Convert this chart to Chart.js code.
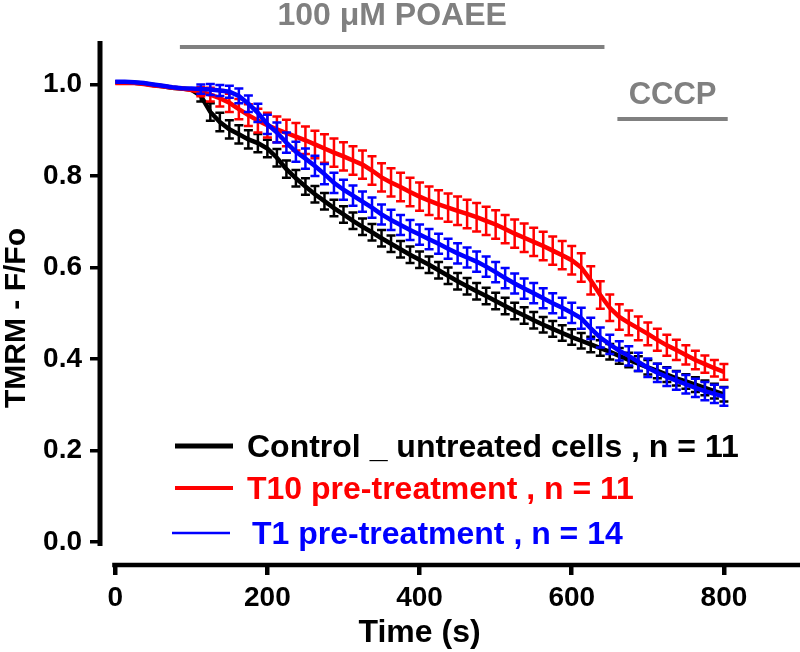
<!DOCTYPE html>
<html>
<head>
<meta charset="utf-8">
<script src="https://cdn.jsdelivr.net/npm/chart.js@4"></script>
<style>
html, body { margin: 0; padding: 0; background: #fff; }
#wrap { width: 800px; height: 652px; }
</style>
</head>
<body>
<div id="wrap"><canvas id="chart"></canvas></div>
<script>
// time points (s)
var times = [
  0, 12.5, 25, 37.5, 50, 62.5, 75, 87.5, 100, 112.5, 125, 137.5, 150,
  162.5, 175, 187.5, 200, 212.5, 225, 237.5, 250, 262.5, 275, 287.5, 300, 312.5,
  325, 337.5, 350, 362.5, 375, 387.5, 400, 412.5, 425, 437.5, 450, 462.5, 475,
  487.5, 500, 512.5, 525, 537.5, 550, 562.5, 575, 587.5, 600, 612.5, 625, 637.5,
  650, 662.5, 675, 687.5, 700, 712.5, 725, 737.5, 750, 762.5, 775, 787.5, 800
];

// Control _ untreated cells
var control = [
  1.005, 1.005, 1.004, 1.002, 0.999, 0.996, 0.993, 0.991, 0.989, 0.975, 0.940, 0.918, 0.902,
  0.891, 0.880, 0.872, 0.860, 0.840, 0.815, 0.795, 0.777, 0.760, 0.745, 0.730, 0.716, 0.702,
  0.689, 0.677, 0.664, 0.652, 0.640, 0.628, 0.617, 0.606, 0.594, 0.582, 0.570, 0.559, 0.548,
  0.538, 0.527, 0.516, 0.505, 0.495, 0.485, 0.475, 0.466, 0.457, 0.448, 0.440, 0.432, 0.424,
  0.416, 0.407, 0.398, 0.390, 0.382, 0.374, 0.366, 0.358, 0.351, 0.344, 0.337, 0.330, 0.323
];
var controlSem = [
  0.003, 0.003, 0.003, 0.003, 0.003, 0.003, 0.003, 0.003, 0.004, 0.012, 0.019, 0.020, 0.020,
  0.020, 0.020, 0.020, 0.019, 0.019, 0.019, 0.018, 0.018, 0.018, 0.018, 0.018, 0.018, 0.018,
  0.018, 0.018, 0.018, 0.018, 0.018, 0.018, 0.018, 0.018, 0.018, 0.018, 0.018, 0.018, 0.018,
  0.018, 0.018, 0.018, 0.018, 0.018, 0.018, 0.017, 0.017, 0.017, 0.017, 0.017, 0.017, 0.017,
  0.017, 0.017, 0.016, 0.016, 0.016, 0.016, 0.016, 0.016, 0.016, 0.016, 0.016, 0.016, 0.016
];

// T10 pre-treatment
var t10 = [
  1.003, 1.004, 1.003, 1.001, 0.998, 0.996, 0.993, 0.991, 0.988, 0.984, 0.978, 0.970, 0.960,
  0.946, 0.933, 0.921, 0.911, 0.902, 0.894, 0.886, 0.878, 0.869, 0.860, 0.851, 0.843, 0.834,
  0.825, 0.812, 0.797, 0.786, 0.776, 0.765, 0.755, 0.746, 0.738, 0.731, 0.724, 0.717, 0.710,
  0.702, 0.694, 0.684, 0.674, 0.665, 0.656, 0.647, 0.637, 0.627, 0.616, 0.600, 0.572, 0.540,
  0.512, 0.492, 0.479, 0.467, 0.455, 0.442, 0.430, 0.420, 0.409, 0.398, 0.389, 0.380, 0.372
];
var t10Sem = [
  0.004, 0.004, 0.004, 0.004, 0.004, 0.004, 0.004, 0.004, 0.005, 0.010, 0.015, 0.018, 0.020,
  0.022, 0.024, 0.026, 0.027, 0.028, 0.029, 0.030, 0.030, 0.030, 0.031, 0.031, 0.031, 0.031,
  0.031, 0.031, 0.031, 0.031, 0.031, 0.031, 0.031, 0.031, 0.031, 0.031, 0.031, 0.031, 0.031,
  0.031, 0.031, 0.031, 0.031, 0.031, 0.031, 0.031, 0.031, 0.031, 0.031, 0.031, 0.031, 0.030,
  0.029, 0.028, 0.027, 0.026, 0.025, 0.024, 0.023, 0.022, 0.021, 0.020, 0.019, 0.018, 0.017
];

// T1 pre-treatment
var t1 = [
  1.006, 1.006, 1.005, 1.003, 1.000, 0.997, 0.994, 0.992, 0.991, 0.990, 0.989, 0.987, 0.984,
  0.975, 0.958, 0.938, 0.913, 0.895, 0.873, 0.853, 0.838, 0.822, 0.804, 0.785, 0.770, 0.757,
  0.744, 0.731, 0.716, 0.704, 0.693, 0.682, 0.672, 0.662, 0.652, 0.641, 0.631, 0.622, 0.613,
  0.602, 0.590, 0.577, 0.565, 0.554, 0.544, 0.533, 0.522, 0.512, 0.501, 0.489, 0.467, 0.447,
  0.432, 0.418, 0.407, 0.394, 0.381, 0.370, 0.361, 0.353, 0.345, 0.337, 0.330, 0.324, 0.318
];
var t1Sem = [
  0.003, 0.003, 0.003, 0.003, 0.003, 0.003, 0.003, 0.003, 0.004, 0.010, 0.012, 0.012, 0.013,
  0.016, 0.018, 0.020, 0.021, 0.022, 0.022, 0.022, 0.022, 0.022, 0.022, 0.022, 0.022, 0.022,
  0.022, 0.022, 0.022, 0.022, 0.022, 0.022, 0.022, 0.022, 0.022, 0.022, 0.022, 0.022, 0.022,
  0.022, 0.022, 0.022, 0.022, 0.022, 0.022, 0.022, 0.022, 0.022, 0.022, 0.023, 0.023, 0.022,
  0.021, 0.021, 0.021, 0.020, 0.020, 0.020, 0.020, 0.020, 0.020, 0.020, 0.020, 0.020, 0.020
];

var xTicks = [0, 200, 400, 600, 800];
var yTicks = [0, 0.2, 0.4, 0.6, 0.8, 1.0];

// drug application bars: label, start (s), end (s)
var treatLabels = ['100 \u03bcM POAEE', 'CCCP'];
var treatStart = [85, 660];
var treatEnd = [643, 805];

var FONT = '"Liberation Sans", Arial, Helvetica, sans-serif';

function points(vals) {
  return times.map(function (t, i) { return { x: t, y: vals[i] }; });
}

var errorBars = {
  id: 'errorBars',
  afterDatasetDraw: function (chart, args) {
    var ds = chart.data.datasets[args.index];
    var ys = chart.scales.y;
    var ctx = chart.ctx;
    ctx.save();
    ctx.strokeStyle = ds.borderColor;
    ctx.lineWidth = 2.5;
    args.meta.data.forEach(function (p, i) {
      var v = ds.data[i].y, e = ds.errors[i];
      var top = ys.getPixelForValue(v + e), bot = ys.getPixelForValue(v - e);
      if (bot - top < 5) return;
      ctx.beginPath();
      ctx.moveTo(p.x, top); ctx.lineTo(p.x, bot);
      ctx.moveTo(p.x - 4.5, top); ctx.lineTo(p.x + 4.5, top);
      ctx.moveTo(p.x - 4.5, bot); ctx.lineTo(p.x + 4.5, bot);
      ctx.stroke();
    });
    ctx.restore();
  }
};

var decorations = {
  id: 'decorations',
  afterDraw: function (chart) {
    var ctx = chart.ctx, xs = chart.scales.x, ys = chart.scales.y, a = chart.chartArea;
    ctx.save();

    // offset axes
    ctx.strokeStyle = '#000';
    ctx.lineWidth = 5;
    ctx.beginPath();
    ctx.moveTo(a.left, a.top);
    ctx.lineTo(a.left, ys.getPixelForValue(0) + 4);
    ctx.stroke();
    ctx.lineWidth = 4.5;
    ctx.beginPath();
    ctx.moveTo(xs.getPixelForValue(0) - 3, a.bottom);
    ctx.lineTo(a.right, a.bottom);
    ctx.stroke();

    // axis titles
    ctx.fillStyle = '#000';
    ctx.font = 'bold 32px ' + FONT;
    ctx.textAlign = 'center';
    ctx.textBaseline = 'alphabetic';
    ctx.fillText('Time (s)', (xs.getPixelForValue(0) + xs.getPixelForValue(800)) / 2, 642);
    ctx.save();
    ctx.translate(25, 318);
    ctx.rotate(-Math.PI / 2);
    ctx.font = 'bold 30px ' + FONT;
    ctx.fillText('TMRM - F/Fo', 0, 0);
    ctx.restore();

    // treatment bars
    var barY = [47, 119], textY = [25, 104], textSize = [32, 31];
    ctx.strokeStyle = '#808080';
    ctx.fillStyle = '#808080';
    ctx.lineWidth = 4;
    treatLabels.forEach(function (lab, i) {
      var x0 = xs.getPixelForValue(treatStart[i]), x1 = xs.getPixelForValue(treatEnd[i]);
      ctx.beginPath();
      ctx.moveTo(x0, barY[i]);
      ctx.lineTo(x1, barY[i]);
      ctx.stroke();
      ctx.font = 'bold ' + textSize[i] + 'px ' + FONT;
      ctx.fillText(lab, (x0 + x1) / 2, textY[i]);
    });

    // legend
    var rowY = [446, 488, 533], lineW = [5, 4, 2.5], lineX0 = [175, 175, 172], textX = [247, 247, 252];
    ctx.textAlign = 'left';
    ctx.textBaseline = 'alphabetic';
    ctx.font = 'bold 32px ' + FONT;
    chart.data.datasets.forEach(function (ds, i) {
      ctx.strokeStyle = ds.borderColor;
      ctx.fillStyle = ds.borderColor;
      ctx.lineWidth = lineW[i];
      ctx.beginPath();
      ctx.moveTo(lineX0[i], rowY[i]);
      ctx.lineTo(lineX0[i] + 58, rowY[i]);
      ctx.stroke();
      ctx.fillText(ds.label, textX[i], rowY[i] + 11);
    });

    ctx.restore();
  }
};

new Chart(document.getElementById('chart'), {
  type: 'line',
  data: {
    datasets: [
      { label: 'Control _ untreated cells , n = 11', data: points(control), errors: controlSem, borderColor: '#000000', order: 3 },
      { label: 'T10 pre-treatment , n = 11', data: points(t10), errors: t10Sem, borderColor: '#ff0000', order: 2 },
      { label: 'T1 pre-treatment , n = 14', data: points(t1), errors: t1Sem, borderColor: '#0000ff', order: 1 }
    ]
  },
  options: {
    responsive: true,
    maintainAspectRatio: false,
    animation: false,
    layout: { padding: { top: 41, left: 0, right: 0, bottom: 0 } },
    elements: {
      point: { radius: 0, hoverRadius: 0 },
      line: { borderWidth: 4.5, tension: 0, fill: false }
    },
    plugins: { legend: { display: false }, tooltip: { enabled: false } },
    scales: {
      x: {
        type: 'linear',
        min: -20,
        max: 900,
        afterBuildTicks: function (s) { s.ticks = xTicks.map(function (v) { return { value: v }; }); },
        afterFit: function (s) { s.height = 87; },
        border: { display: false },
        grid: { drawOnChartArea: false, drawTicks: true, tickLength: 10, lineWidth: 4.5, color: '#000' },
        ticks: { color: '#000', padding: 6, maxRotation: 0, font: { family: FONT, size: 28, weight: 'bold' } }
      },
      y: {
        min: -0.05,
        max: 1.095,
        afterBuildTicks: function (s) { s.ticks = yTicks.map(function (v) { return { value: v }; }); },
        afterFit: function (s) { s.width = 100; },
        border: { display: false },
        grid: { drawOnChartArea: false, drawTicks: true, tickLength: 10, lineWidth: 3.5, color: '#000' },
        ticks: {
          color: '#000', padding: 8,
          font: { family: FONT, size: 28, weight: 'bold' },
          callback: function (v) { return v.toFixed(1); }
        }
      }
    }
  },
  plugins: [errorBars, decorations]
});
</script>
</body>
</html>
